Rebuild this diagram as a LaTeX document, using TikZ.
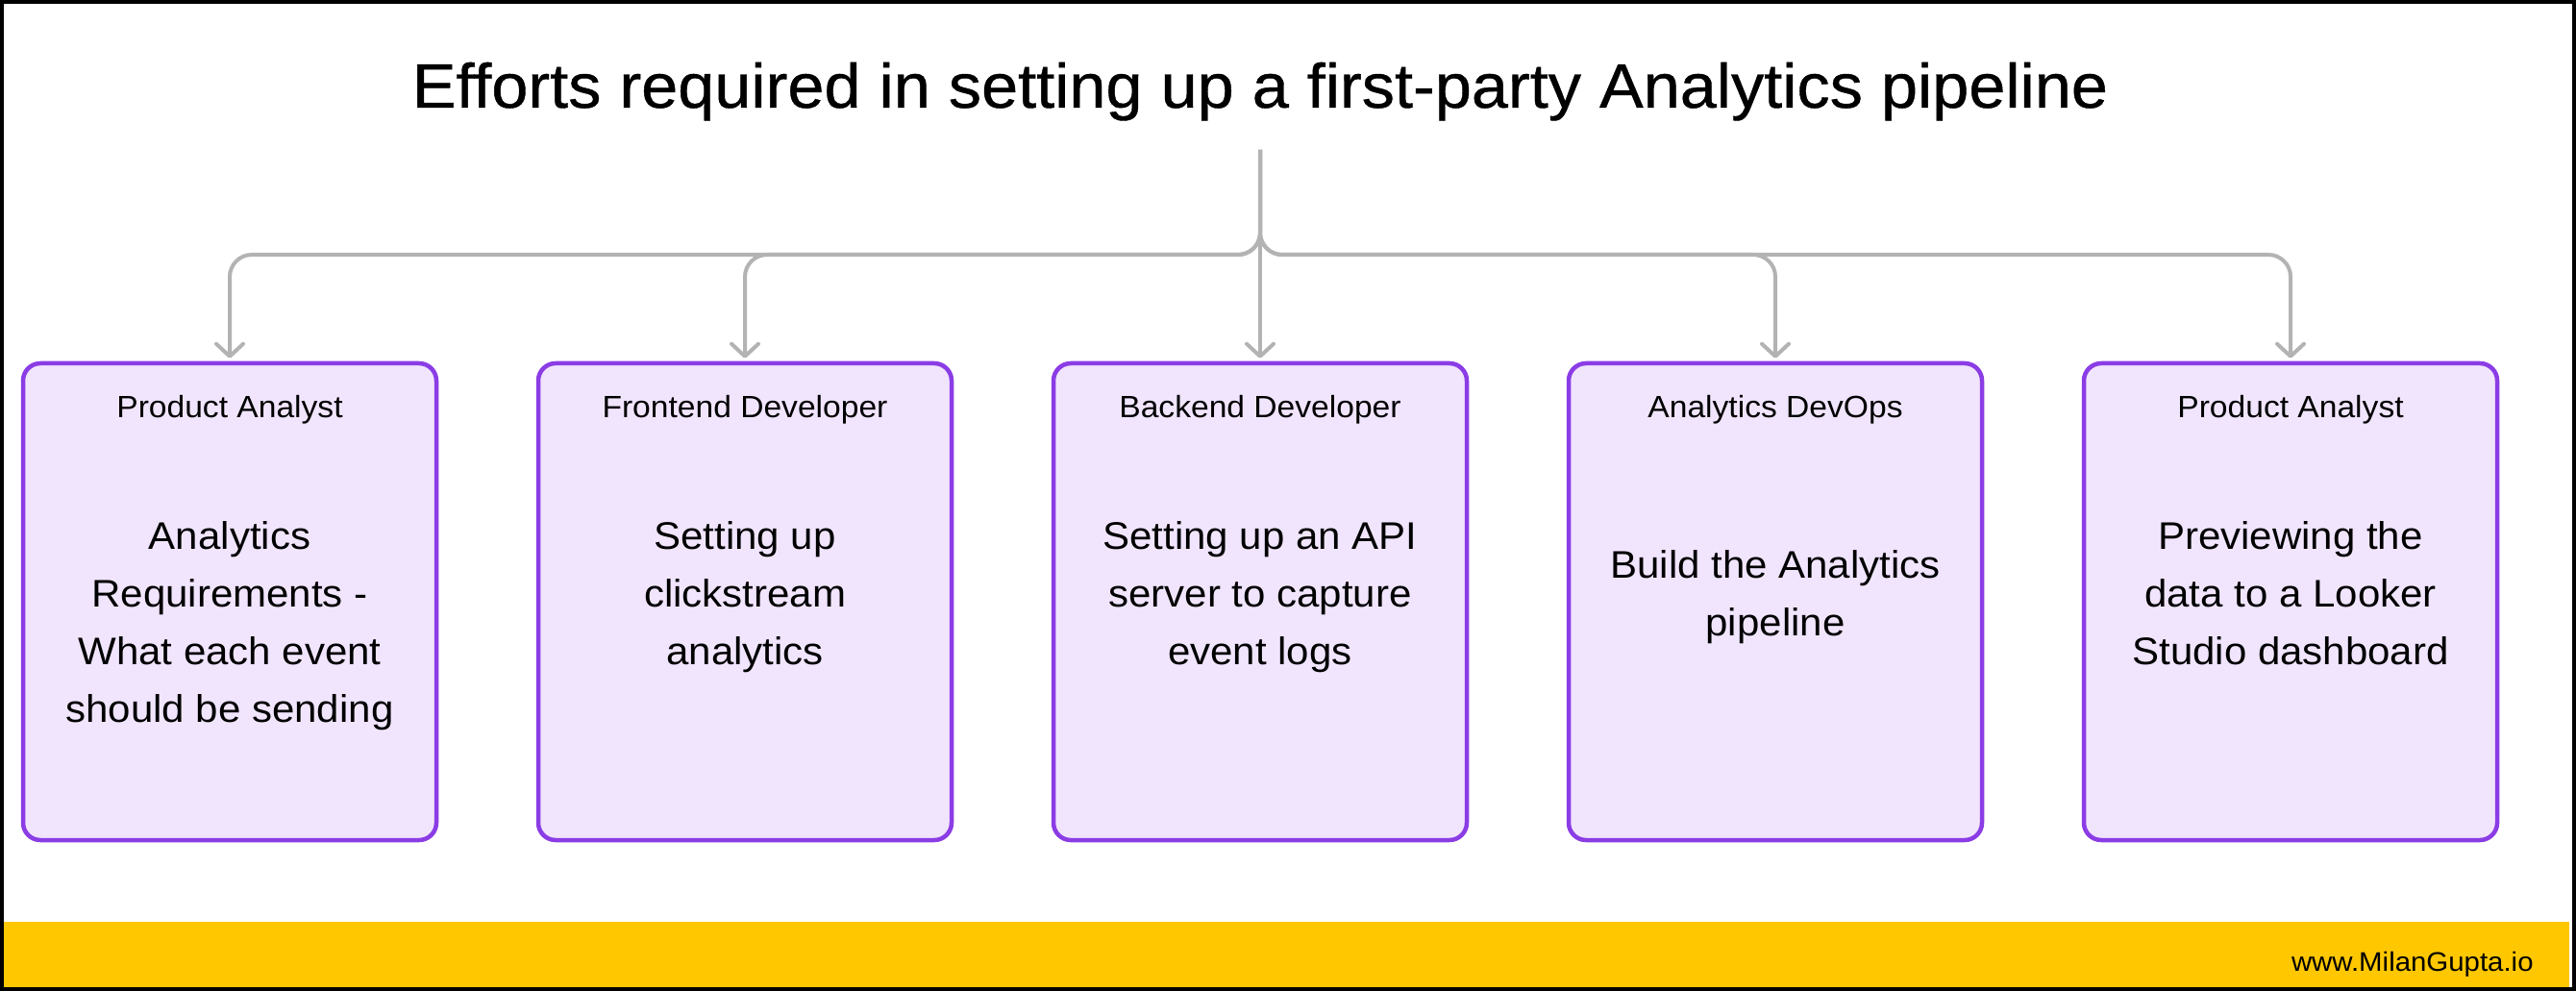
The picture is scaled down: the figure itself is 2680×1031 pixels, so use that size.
\documentclass[tikz,border=0pt]{standalone}
\usepackage{fontspec}
\setmainfont{Liberation Sans}[FakeStretch=1.05]
\newfontfamily\titlefont{Liberation Sans}[FakeStretch=1.05,FakeBold=0.6]
\usetikzlibrary{arrows.meta}
\definecolor{linegray}{RGB}{179,179,179}
\definecolor{boxpurple}{RGB}{139,61,229}
\definecolor{boxfill}{RGB}{241,229,254}
\definecolor{footyellow}{RGB}{255,199,0}
\newcommand\boxlines[1]{\vtop{\baselineskip=30pt\lineskiplimit=-100pt\halign{\hfil##\hfil\cr#1\crcr}}}
\begin{document}
\begin{tikzpicture}[x=0.5pt,y=-0.5pt,
  cardbox/.style={draw=boxpurple, fill=boxfill, line width=2.25pt, rounded corners=9pt,
    minimum width=215pt, minimum height=248pt, inner sep=0pt},
  role/.style={anchor=base, font=\fontsize{16}{19}\selectfont, inner sep=0pt},
  task/.style={anchor=base, font=\fontsize{20}{30}\selectfont, inner sep=0pt},
  link/.style={draw=linegray, line width=2pt, rounded corners=11.5pt,
    -{Straight Barb[length=6.5pt,width=14pt,line cap=round,line join=round]}, shorten >=1.5pt}]
\useasboundingbox (0,0) rectangle (2680,1031);
% frame and footer band
\fill[black] (0,0) rectangle (2680,1031);
\fill[white] (4,4) rectangle (2676,1027);
\fill[footyellow] (4,959) rectangle (2673,1027);
% title
\node[anchor=base, font=\titlefont\fontsize{32.6}{39}\selectfont, inner sep=0pt] (title) at (1311,112)
  {Efforts required in setting up a first-party Analytics pipeline};
% cards
\node[cardbox] (b1) at (239,626) {};
\node[cardbox] (b2) at (775,626) {};
\node[cardbox] (b3) at (1311,626) {};
\node[cardbox] (b4) at (1847,626) {};
\node[cardbox] (b5) at (2383,626) {};
% roles
\node[role] (r1) at (239,435) {Product Analyst};
\node[role] (r2) at (775,435) {Frontend Developer};
\node[role] (r3) at (1311,435) {Backend Developer};
\node[role] (r4) at (1847,435) {Analytics DevOps};
\node[role] (r5) at (2383,435) {Product Analyst};
% tasks
\node[task] (t1) at (239,571) {\boxlines{Analytics\cr Requirements -\cr What each event\cr should be sending}};
\node[task] (t2) at (775,571) {\boxlines{Setting up\cr clickstream\cr analytics}};
\node[task] (t3) at (1311,571) {\boxlines{Setting up an API\cr server to capture\cr event logs}};
\node[task] (t4) at (1847,601) {\boxlines{Build the Analytics\cr pipeline}};
\node[task] (t5) at (2383,571) {\boxlines{Previewing the\cr data to a Looker\cr Studio dashboard}};
% connectors
\coordinate (top) at (1311,156);
\coordinate (hub) at (1311,265);
\draw[link] (top) -- (hub) -- (hub -| b1.north) -- (b1.north);
\draw[link] (top) -- (hub) -- (hub -| b2.north) -- (b2.north);
\draw[link] (top) -- (b3.north);
\draw[link] (top) -- (hub) -- (hub -| b4.north) -- (b4.north);
\draw[link] (top) -- (hub) -- (hub -| b5.north) -- (b5.north);
% footer
\node[anchor=base east, font=\fontsize{14}{17}\selectfont, inner sep=0pt] (site) at (2636,1010) {www.MilanGupta.io};
\end{tikzpicture}
\end{document}
